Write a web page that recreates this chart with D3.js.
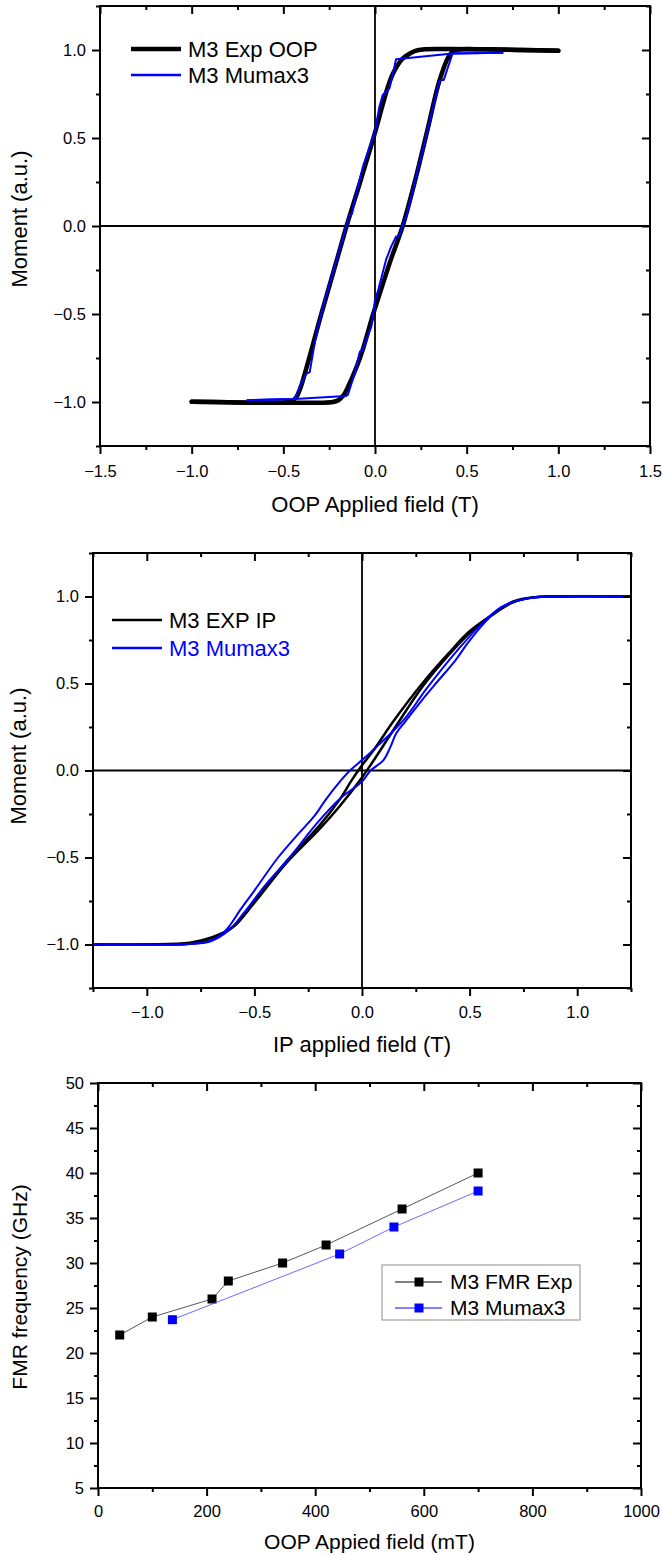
<!DOCTYPE html>
<html>
<head>
<meta charset="utf-8">
<script src="https://cdn.jsdelivr.net/npm/d3@7"></script>
<style>
  body { margin: 0; background: #fff; }
  text { font-family: "Liberation Sans", Arial, sans-serif; fill: #000; }
</style>
</head>
<body>
<div id="chart"></div>
<script>
// ---- data ----
// OOP loop, field in T, moment normalised
const oopExpDown = [[1.0,0.996],[0.8,1.0],[0.6,1.004],[0.4,1.005],[0.26,1.003],[0.22,0.995],[0.19,0.98],[0.15,0.95],[0.1,0.87],[0.07,0.79],[0.0,0.53],[-0.075,0.27],[-0.155,0.0],[-0.21,-0.2],[-0.29,-0.49],[-0.375,-0.81],[-0.41,-0.93],[-0.435,-0.98],[-0.47,-1.0],[-0.6,-1.004],[-0.8,-1.002],[-1.0,-0.998]];
const oopExpUp = [[-1.0,-0.998],[-0.8,-1.002],[-0.6,-1.004],[-0.3,-1.004],[-0.23,-1.0],[-0.2,-0.99],[-0.17,-0.96],[-0.15,-0.92],[-0.1,-0.8],[-0.066,-0.7],[-0.01,-0.5],[0.015,-0.42],[0.08,-0.21],[0.151,0.0],[0.224,0.28],[0.287,0.55],[0.35,0.82],[0.4,0.96],[0.423,0.99],[0.46,1.003],[0.6,1.004],[0.8,1.0],[1.0,0.996]];
const oopSimDown = [[0.7,0.985],[0.423,0.98],[0.115,0.947],[0.079,0.782],[0.06,0.763],[0.042,0.744],[0.024,0.678],[0.0,0.536],[-0.066,0.337],[-0.12,0.11],[-0.125,0.07],[-0.14,0.06],[-0.157,0.0],[-0.22,-0.23],[-0.274,-0.42],[-0.32,-0.61],[-0.356,-0.83],[-0.375,-0.84],[-0.41,-0.91],[-0.437,-0.983],[-0.52,-0.985],[-0.7,-0.99]];
const oopSimUp = [[-0.7,-0.99],[-0.437,-0.983],[-0.16,-0.966],[-0.148,-0.96],[-0.111,-0.837],[-0.085,-0.723],[-0.08,-0.71],[-0.07,-0.71],[-0.02,-0.572],[0.0,-0.42],[0.015,-0.373],[0.06,-0.193],[0.088,-0.117],[0.115,-0.06],[0.13,-0.06],[0.151,0.005],[0.17,0.053],[0.224,0.28],[0.287,0.545],[0.35,0.82],[0.36,0.83],[0.375,0.83],[0.423,0.98],[0.7,0.985]];

// IP loop
const ipExpDown = [[1.25,1.0],[0.9,1.0],[0.8,0.995],[0.7,0.97],[0.6,0.89],[0.5,0.8],[0.4,0.67],[0.28,0.5],[0.15,0.29],[0.05,0.11],[0.0,0.03],[-0.05,-0.06],[-0.1,-0.16],[-0.2,-0.32],[-0.35,-0.52],[-0.5,-0.75],[-0.6,-0.9],[-0.7,-0.96],[-0.8,-0.99],[-1.0,-1.0],[-1.25,-1.0]];
const ipExpUp = [[-1.25,-1.0],[-1.0,-1.0],[-0.8,-0.995],[-0.7,-0.965],[-0.6,-0.9],[-0.5,-0.76],[-0.35,-0.53],[-0.2,-0.34],[-0.1,-0.2],[0.0,-0.04],[0.05,0.05],[0.15,0.24],[0.28,0.48],[0.4,0.66],[0.5,0.79],[0.6,0.89],[0.7,0.965],[0.8,0.995],[0.9,1.0],[1.25,1.0]];
const ipSimDown = [[1.25,1.0],[0.9,1.0],[0.77,0.99],[0.65,0.94],[0.57,0.86],[0.45,0.7],[0.3,0.47],[0.2,0.3],[0.08,0.15],[0.0,0.06],[-0.056,0.0],[-0.1,-0.06],[-0.17,-0.17],[-0.22,-0.26],[-0.3,-0.37],[-0.39,-0.5],[-0.5,-0.69],[-0.565,-0.8],[-0.62,-0.9],[-0.66,-0.95],[-0.72,-0.985],[-0.8,-0.997],[-1.25,-1.0]];
const ipSimUp = [[-1.25,-1.0],[-0.8,-0.997],[-0.7,-0.98],[-0.62,-0.92],[-0.55,-0.82],[-0.45,-0.66],[-0.35,-0.52],[-0.2,-0.29],[-0.1,-0.16],[0.0,-0.063],[0.04,0.0],[0.1,0.06],[0.13,0.13],[0.16,0.215],[0.2,0.28],[0.28,0.406],[0.35,0.51],[0.436,0.636],[0.49,0.73],[0.57,0.85],[0.65,0.94],[0.77,0.99],[0.9,1.0],[1.25,1.0]];

// FMR, field in mT, frequency in GHz
const fmrExpField = [40, 100, 210, 240, 340, 420, 560, 700];
const fmrExpFreq  = [22, 24, 26, 28, 30, 32, 36, 40];
const fmrSimField = [137, 445, 545, 700];
const fmrSimFreq  = [23.7, 31, 34, 38];

// ticks
const loopMajorY = [-1.0, -0.5, 0.0, 0.5, 1.0];
const loopMinorY = [-1.25, -0.75, -0.25, 0.25, 0.75, 1.25];
const oopMajorX = [-1.5, -1.0, -0.5, 0.0, 0.5, 1.0, 1.5];
const oopMinorX = [-1.25, -0.75, -0.25, 0.25, 0.75, 1.25];
const ipMajorX = [-1.0, -0.5, 0.0, 0.5, 1.0];
const ipMinorX = [-1.25, -0.75, -0.25, 0.25, 0.75, 1.25];
const fmrMajorX = [0, 200, 400, 600, 800, 1000];
const fmrMinorX = [100, 300, 500, 700, 900];
const fmrMajorY = [5, 10, 15, 20, 25, 30, 35, 40, 45, 50];
const fmrMinorY = [7.5, 12.5, 17.5, 22.5, 27.5, 32.5, 37.5, 42.5, 47.5];

const BLUE = "#0000ff";

const svg = d3.select("#chart").append("svg")
  .attr("width", 662).attr("height", 1555)
  .style("background", "#fff");

// draws box + in/out ticks like Origin does
function drawFrame(g, x, y, opt) {
  const [x0, x1] = x.range();
  const [y0, y1] = y.range(); // y0 bottom, y1 top

  const ax = (axis, tx, ty) => {
    const a = g.append("g").attr("transform", `translate(${tx},${ty})`).call(axis);
    a.select(".domain").remove();
    a.selectAll("line").attr("stroke", "#000").attr("stroke-width", 2);
    return a;
  };

  const bot = ax(d3.axisBottom(x).tickValues(opt.xMajor).tickSize(8).tickFormat(opt.xFmt), 0, y0);
  bot.selectAll("text").attr("y", opt.xLabelGap).style("font-size", "16.5px");
  ax(d3.axisBottom(x).tickValues(opt.xMinor).tickSize(4).tickFormat(""), 0, y0);
  ax(d3.axisTop(x).tickValues(opt.xMajor).tickSize(-8).tickFormat(""), 0, y1);
  ax(d3.axisTop(x).tickValues(opt.xMinor).tickSize(-4).tickFormat(""), 0, y1);

  const left = ax(d3.axisLeft(y).tickValues(opt.yMajor).tickSize(8).tickFormat(opt.yFmt), x0, 0);
  left.selectAll("text").attr("x", -14).style("font-size", "16.5px");
  ax(d3.axisLeft(y).tickValues(opt.yMinor).tickSize(4).tickFormat(""), x0, 0);
  ax(d3.axisRight(y).tickValues(opt.yMajor).tickSize(-8).tickFormat(""), x1, 0);
  ax(d3.axisRight(y).tickValues(opt.yMinor).tickSize(-4).tickFormat(""), x1, 0);

  g.append("rect")
    .attr("x", x0).attr("y", y1)
    .attr("width", x1 - x0).attr("height", y0 - y1)
    .attr("fill", "none").attr("stroke", "#000").attr("stroke-width", 2);

  g.append("text")
    .attr("x", (x0 + x1) / 2).attr("y", opt.xTitleY).attr("dy", "0.35em")
    .attr("text-anchor", "middle").style("font-size", opt.titleSize)
    .text(opt.xTitle);

  g.append("text")
    .attr("transform", `translate(${opt.yTitleX},${opt.yTitleY}) rotate(-90)`)
    .attr("dy", "0.35em")
    .attr("text-anchor", "middle").style("font-size", opt.titleSize)
    .text(opt.yTitle);
}

function zeroLines(g, x, y) {
  g.append("line")
    .attr("x1", x.range()[0]).attr("x2", x.range()[1])
    .attr("y1", y(0)).attr("y2", y(0))
    .attr("stroke", "#000").attr("stroke-width", 1.8);
  g.append("line")
    .attr("x1", x(0)).attr("x2", x(0))
    .attr("y1", y.range()[0]).attr("y2", y.range()[1])
    .attr("stroke", "#000").attr("stroke-width", 1.8);
}

const fmt1 = d3.format(".1f");

// ================= panel 1 : OOP loop =================
{
  const g = svg.append("g");
  const x = d3.scaleLinear().domain([-1.5, 1.5]).range([100, 650]);
  const y = d3.scaleLinear().domain([-1.25, 1.25]).range([446, 6]);

  zeroLines(g, x, y);

  const smooth = d3.line().x(d => x(d[0])).y(d => y(d[1])).curve(d3.curveCatmullRom.alpha(0.5));
  const raw = d3.line().x(d => x(d[0])).y(d => y(d[1]));

  [oopExpDown, oopExpUp].forEach(b => {
    g.append("path").attr("d", smooth(b))
      .attr("fill", "none").attr("stroke", "#000")
      .attr("stroke-width", 4.5).attr("stroke-linecap", "round").attr("stroke-linejoin", "round");
  });
  [oopSimDown, oopSimUp].forEach(b => {
    g.append("path").attr("d", raw(b))
      .attr("fill", "none").attr("stroke", BLUE)
      .attr("stroke-width", 2).attr("stroke-linejoin", "round");
  });

  drawFrame(g, x, y, {
    xMajor: oopMajorX, xMinor: oopMinorX, yMajor: loopMajorY, yMinor: loopMinorY,
    xFmt: fmt1, yFmt: fmt1, xLabelGap: 19,
    xTitle: "OOP Applied field (T)", xTitleY: 504,
    yTitle: "Moment (a.u.)", yTitleX: 19, yTitleY: 219, titleSize: "22px"
  });

  // legend
  const leg = g.append("g");
  const items = [
    { label: "M3 Exp OOP", color: "#000", w: 4.5, tc: "#000" },
    { label: "M3 Mumax3", color: BLUE, w: 2.5, tc: "#000" }
  ];
  items.forEach((it, i) => {
    const yy = 49 + i * 26;
    leg.append("line").attr("x1", 131).attr("x2", 181).attr("y1", yy).attr("y2", yy)
      .attr("stroke", it.color).attr("stroke-width", it.w);
    leg.append("text").attr("x", 188).attr("y", yy).attr("dy", "0.35em")
      .style("font-size", "22px").style("fill", it.tc).text(it.label);
  });
}

// ================= panel 2 : IP loop =================
{
  const g = svg.append("g");
  const x = d3.scaleLinear().domain([-1.25, 1.25]).range([93, 631]);
  const y = d3.scaleLinear().domain([-1.25, 1.25]).range([988, 553]);

  zeroLines(g, x, y);

  const smooth = d3.line().x(d => x(d[0])).y(d => y(d[1])).curve(d3.curveCatmullRom.alpha(0.5));

  [ipExpDown, ipExpUp].forEach(b => {
    g.append("path").attr("d", smooth(b))
      .attr("fill", "none").attr("stroke", "#000").attr("stroke-width", 2.5);
  });
  [ipSimDown, ipSimUp].forEach(b => {
    g.append("path").attr("d", smooth(b))
      .attr("fill", "none").attr("stroke", BLUE).attr("stroke-width", 2);
  });

  drawFrame(g, x, y, {
    xMajor: ipMajorX, xMinor: ipMinorX, yMajor: loopMajorY, yMinor: loopMinorY,
    xFmt: fmt1, yFmt: fmt1, xLabelGap: 18,
    xTitle: "IP applied field (T)", xTitleY: 1044,
    yTitle: "Moment (a.u.)", yTitleX: 18, yTitleY: 756, titleSize: "22px"
  });

  const items = [
    { label: "M3 EXP IP", color: "#000" },
    { label: "M3 Mumax3", color: BLUE }
  ];
  items.forEach((it, i) => {
    const yy = 620 + i * 28;
    g.append("line").attr("x1", 112).attr("x2", 162).attr("y1", yy).attr("y2", yy)
      .attr("stroke", it.color).attr("stroke-width", 2.5);
    g.append("text").attr("x", 169).attr("y", yy).attr("dy", "0.35em")
      .style("font-size", "22px").style("fill", it.color).text(it.label);
  });
}

// ================= panel 3 : FMR =================
{
  const g = svg.append("g");
  const x = d3.scaleLinear().domain([0, 1000]).range([98, 641]);
  const y = d3.scaleLinear().domain([5, 50]).range([1488, 1083]);

  const expPts = fmrExpField.map((f, i) => [f, fmrExpFreq[i]]);
  const simPts = fmrSimField.map((f, i) => [f, fmrSimFreq[i]]);
  const line = d3.line().x(d => x(d[0])).y(d => y(d[1]));

  const series = [
    { pts: expPts, color: "#000", lc: "#444" },
    { pts: simPts, color: BLUE, lc: "#5a5aff" }
  ];
  series.forEach(s => {
    g.append("path").attr("d", line(s.pts))
      .attr("fill", "none").attr("stroke", s.lc).attr("stroke-width", 0.9);
    g.selectAll(null).data(s.pts).join("rect")
      .attr("x", d => x(d[0]) - 4.5).attr("y", d => y(d[1]) - 4.5)
      .attr("width", 9).attr("height", 9)
      .attr("fill", s.color);
  });

  drawFrame(g, x, y, {
    xMajor: fmrMajorX, xMinor: fmrMinorX, yMajor: fmrMajorY, yMinor: fmrMinorY,
    xFmt: d3.format("d"), yFmt: d3.format("d"), xLabelGap: 17,
    xTitle: "OOP Appied field (mT)", xTitleY: 1542,
    yTitle: "FMR frequency (GHz)", yTitleX: 20, yTitleY: 1287, titleSize: "21px"
  });

  // legend box
  const lg = g.append("g");
  lg.append("rect").attr("x", 382).attr("y", 1265).attr("width", 198).attr("height", 55)
    .attr("fill", "#fff").attr("stroke", "#a0a0a0").attr("stroke-width", 1.2);
  const items = [
    { label: "M3 FMR Exp", color: "#000" },
    { label: "M3 Mumax3", color: BLUE }
  ];
  items.forEach((it, i) => {
    const yy = 1282 + i * 26;
    lg.append("line").attr("x1", 395).attr("x2", 442).attr("y1", yy).attr("y2", yy)
      .attr("stroke", it.color).attr("stroke-width", 1);
    lg.append("rect").attr("x", 419 - 4.5).attr("y", yy - 4.5).attr("width", 9).attr("height", 9)
      .attr("fill", it.color);
    lg.append("text").attr("x", 450).attr("y", yy).attr("dy", "0.35em")
      .style("font-size", "21px").text(it.label);
  });
}
</script>
</body>
</html>
